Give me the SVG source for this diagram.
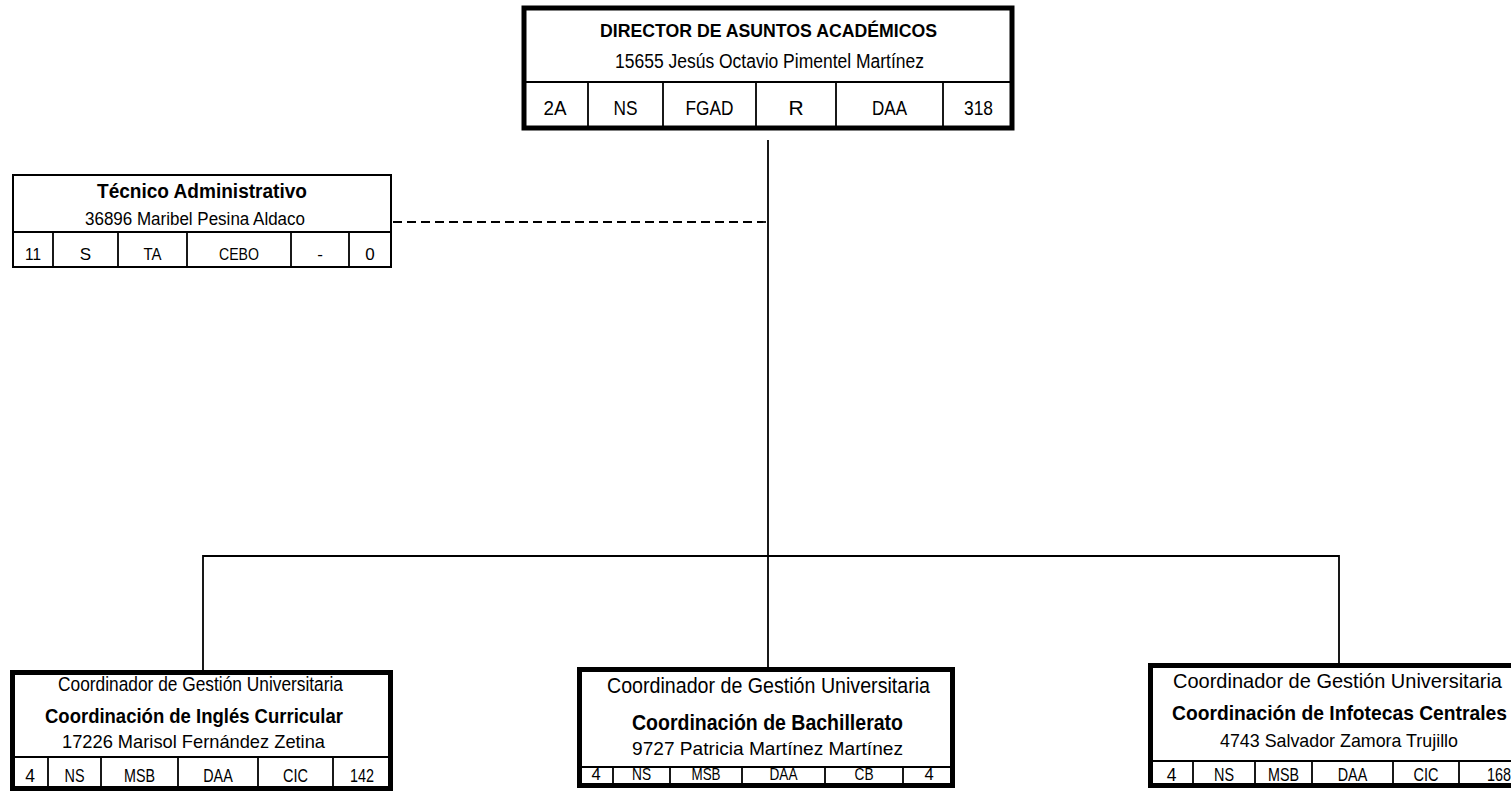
<svg xmlns="http://www.w3.org/2000/svg" width="1511" height="794" viewBox="0 0 1511 794">
<style>
text{font-family:"Liberation Sans Narrow","Arial Narrow","Liberation Sans",Arial,sans-serif;fill:#000}
.c{text-anchor:middle}
.b{font-weight:bold}
.thick{fill:#fff;stroke:#000;stroke-width:5}
.thin{fill:#fff;stroke:#000;stroke-width:2}
.ln{stroke:#000;stroke-width:1.8;fill:none}
.conn{stroke:#000;stroke-width:1.8;fill:none}
.dash{stroke:#000;stroke-width:1.8;fill:none;stroke-dasharray:9 5}
</style>
<rect width="1511" height="794" fill="#fff"/>
<g id="connectors">
<line class="conn" x1="768" y1="140" x2="768" y2="667"/>
<polyline class="conn" points="203,670 203,556 1339,556 1339,663"/>
<line class="dash" x1="393" y1="222" x2="766" y2="222"/>
</g>
<g id="director">
<rect class="thick" x="524" y="8" width="488" height="120"/>
<line class="ln" x1="524" y1="82" x2="1012" y2="82"/>
<g class="ln"><line x1="588" y1="82" x2="588" y2="128"/><line x1="663" y1="82" x2="663" y2="128"/><line x1="756" y1="82" x2="756" y2="128"/><line x1="836" y1="82" x2="836" y2="128"/><line x1="943" y1="82" x2="943" y2="128"/></g>
<text class="b" x="600" y="37" font-size="17.5" textLength="337" lengthAdjust="spacingAndGlyphs">DIRECTOR DE ASUNTOS ACADÉMICOS</text>
<text x="615" y="68" font-size="19.5" textLength="309" lengthAdjust="spacingAndGlyphs">15655 Jesús Octavio Pimentel Martínez</text>
<g font-size="21" lengthAdjust="spacingAndGlyphs"><text class="c" x="555" y="115" textLength="23" lengthAdjust="spacingAndGlyphs">2A</text><text class="c" x="625.5" y="115" textLength="24" lengthAdjust="spacingAndGlyphs">NS</text><text class="c" x="709.5" y="115" textLength="48" lengthAdjust="spacingAndGlyphs">FGAD</text><text class="c" x="796" y="115">R</text><text class="c" x="889.5" y="115" textLength="35" lengthAdjust="spacingAndGlyphs">DAA</text><text class="c" x="978.5" y="115" textLength="29" lengthAdjust="spacingAndGlyphs">318</text></g>
</g>
<g id="tecnico">
<rect class="thin" x="13" y="175" width="378" height="92"/>
<line class="ln" x1="13" y1="232" x2="391" y2="232"/>
<g class="ln"><line x1="53" y1="232" x2="53" y2="267"/><line x1="118" y1="232" x2="118" y2="267"/><line x1="187" y1="232" x2="187" y2="267"/><line x1="291" y1="232" x2="291" y2="267"/><line x1="349" y1="232" x2="349" y2="267"/></g>
<text class="b" x="97" y="198" font-size="19.5" textLength="210" lengthAdjust="spacingAndGlyphs">Técnico Administrativo</text>
<text x="85" y="225" font-size="17.5" textLength="220" lengthAdjust="spacingAndGlyphs">36896 Maribel Pesina Aldaco</text>
<g font-size="17"><text class="c" x="33" y="260" textLength="16" lengthAdjust="spacingAndGlyphs">11</text><text class="c" x="85.5" y="260">S</text><text class="c" x="152.5" y="260" textLength="18" lengthAdjust="spacingAndGlyphs">TA</text><text class="c" x="239" y="260" textLength="40" lengthAdjust="spacingAndGlyphs">CEBO</text><text class="c" x="320" y="260">-</text><text class="c" x="370" y="260">0</text></g>
</g>
<g id="ingles">
<rect class="thick" x="12.5" y="672.5" width="378" height="116"/>
<line class="ln" x1="12" y1="757" x2="391" y2="757"/>
<g class="ln"><line x1="48" y1="757" x2="48" y2="788"/><line x1="101" y1="757" x2="101" y2="788"/><line x1="178" y1="757" x2="178" y2="788"/><line x1="258" y1="757" x2="258" y2="788"/><line x1="333" y1="757" x2="333" y2="788"/></g>
<text x="58" y="690.5" font-size="20.5" textLength="285" lengthAdjust="spacingAndGlyphs">Coordinador de Gestión Universitaria</text>
<text class="b" x="45" y="723" font-size="20.5" textLength="298" lengthAdjust="spacingAndGlyphs">Coordinación de Inglés Curricular</text>
<text x="62" y="748" font-size="19" textLength="263" lengthAdjust="spacingAndGlyphs">17226 Marisol Fernández Zetina</text>
<g font-size="17.5"><text class="c" x="30" y="782">4</text><text class="c" x="74.5" y="782" textLength="20" lengthAdjust="spacingAndGlyphs">NS</text><text class="c" x="139.5" y="782" textLength="31" lengthAdjust="spacingAndGlyphs">MSB</text><text class="c" x="218" y="782" textLength="29.5" lengthAdjust="spacingAndGlyphs">DAA</text><text class="c" x="295.5" y="782" textLength="25" lengthAdjust="spacingAndGlyphs">CIC</text><text class="c" x="362" y="782" textLength="24" lengthAdjust="spacingAndGlyphs">142</text></g>
</g>
<g id="bachillerato">
<rect class="thick" x="579.5" y="669.5" width="373" height="116"/>
<line class="ln" x1="579" y1="767" x2="953" y2="767"/>
<g class="ln"><line x1="613" y1="767" x2="613" y2="786"/><line x1="670" y1="767" x2="670" y2="786"/><line x1="742" y1="767" x2="742" y2="786"/><line x1="825" y1="767" x2="825" y2="786"/><line x1="903" y1="767" x2="903" y2="786"/></g>
<text x="607" y="693" font-size="21.5" textLength="323" lengthAdjust="spacingAndGlyphs">Coordinador de Gestión Universitaria</text>
<text class="b" x="632" y="730" font-size="21.5" textLength="271" lengthAdjust="spacingAndGlyphs">Coordinación de Bachillerato</text>
<text x="632" y="755" font-size="19" textLength="271" lengthAdjust="spacingAndGlyphs">9727 Patricia Martínez Martínez</text>
<g font-size="16.5"><text class="c" x="596" y="780">4</text><text class="c" x="641.5" y="780" textLength="19" lengthAdjust="spacingAndGlyphs">NS</text><text class="c" x="706" y="780" textLength="29" lengthAdjust="spacingAndGlyphs">MSB</text><text class="c" x="783.5" y="780" textLength="28" lengthAdjust="spacingAndGlyphs">DAA</text><text class="c" x="864" y="780" textLength="19" lengthAdjust="spacingAndGlyphs">CB</text><text class="c" x="929" y="780">4</text></g>
</g>
<g id="infotecas">
<rect class="thick" x="1150.5" y="665.5" width="380" height="120"/>
<line class="ln" x1="1150" y1="761" x2="1511" y2="761"/>
<g class="ln"><line x1="1193" y1="761" x2="1193" y2="786"/><line x1="1255" y1="761" x2="1255" y2="786"/><line x1="1312" y1="761" x2="1312" y2="786"/><line x1="1393" y1="761" x2="1393" y2="786"/><line x1="1459" y1="761" x2="1459" y2="786"/></g>
<text x="1173" y="688" font-size="21" textLength="329" lengthAdjust="spacingAndGlyphs">Coordinador de Gestión Universitaria</text>
<text class="b" x="1172" y="720" font-size="21" textLength="335" lengthAdjust="spacingAndGlyphs">Coordinación de Infotecas Centrales</text>
<text x="1220" y="747" font-size="19" textLength="238" lengthAdjust="spacingAndGlyphs">4743 Salvador Zamora Trujillo</text>
<g font-size="17.5"><text class="c" x="1171.5" y="781">4</text><text class="c" x="1224" y="781" textLength="20" lengthAdjust="spacingAndGlyphs">NS</text><text class="c" x="1283.5" y="781" textLength="31" lengthAdjust="spacingAndGlyphs">MSB</text><text class="c" x="1352.5" y="781" textLength="29.5" lengthAdjust="spacingAndGlyphs">DAA</text><text class="c" x="1426" y="781" textLength="25" lengthAdjust="spacingAndGlyphs">CIC</text><text class="c" x="1499" y="781" textLength="24" lengthAdjust="spacingAndGlyphs">168</text></g>
</g>
</svg>
